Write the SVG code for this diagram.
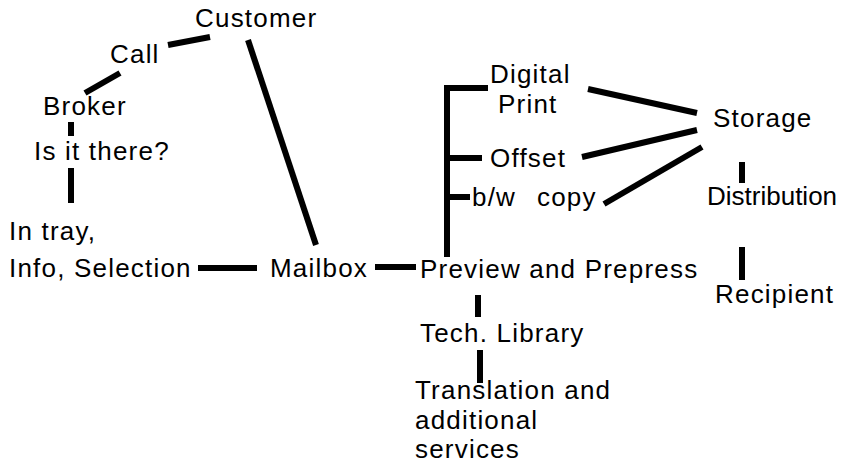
<svg xmlns="http://www.w3.org/2000/svg" width="850" height="465" viewBox="0 0 850 465">
  <style>
    text { font-family: "Liberation Sans", Arial, sans-serif; font-size: 26px; letter-spacing: 1.2px; fill: #000; }
    .tight { letter-spacing: 0; }
    .link { stroke: #000; stroke-width: 6; fill: none; stroke-linecap: butt; }
  </style>
  <rect width="850" height="465" fill="#fff"/>

  <g id="connectors">
    <line class="link" x1="168" y1="45" x2="210" y2="37"/>
    <line class="link" x1="85" y1="93" x2="120" y2="73"/>
    <line class="link" x1="71" y1="122" x2="71" y2="136"/>
    <line class="link" x1="71" y1="168" x2="71" y2="203"/>
    <line class="link" x1="248" y1="40" x2="316" y2="245"/>
    <line class="link" x1="198" y1="268" x2="257" y2="268"/>
    <line class="link" x1="375" y1="267" x2="416" y2="267"/>
    <polyline class="link" points="488,88 447,88 447,257"/>
    <line class="link" x1="447" y1="158" x2="482" y2="158"/>
    <line class="link" x1="447" y1="197" x2="470" y2="197"/>
    <line class="link" x1="588" y1="89" x2="697" y2="113"/>
    <line class="link" x1="582" y1="157" x2="697" y2="130"/>
    <line class="link" x1="604" y1="204" x2="702" y2="147"/>
    <line class="link" x1="742" y1="162" x2="742" y2="183"/>
    <line class="link" x1="742" y1="247" x2="742" y2="280"/>
    <line class="link" x1="478" y1="295" x2="478" y2="317"/>
    <line class="link" x1="480" y1="350" x2="480" y2="383"/>
  </g>

  <g id="customer"><text x="195" y="27">Customer</text></g>
  <g id="call"><text x="110" y="63">Call</text></g>
  <g id="broker"><text x="43" y="115">Broker</text></g>
  <g id="is-it-there"><text x="34" y="160">Is it there?</text></g>
  <g id="in-tray">
    <text x="9" y="240">In tray,</text>
    <text x="9" y="277">Info, Selection</text>
  </g>
  <g id="mailbox"><text x="270" y="277">Mailbox</text></g>
  <g id="preview"><text x="420" y="278">Preview and Prepress</text></g>
  <g id="digital-print">
    <text x="490" y="83">Digital</text>
    <text x="498" y="113">Print</text>
  </g>
  <g id="offset"><text x="490" y="167">Offset</text></g>
  <g id="bw-copy"><text x="472" y="206">b/w <tspan x="537">copy</tspan></text></g>
  <g id="storage"><text x="713" y="127">Storage</text></g>
  <g id="distribution"><text class="tight" x="707" y="205">Distribution</text></g>
  <g id="recipient"><text x="715" y="303">Recipient</text></g>
  <g id="tech-library"><text x="420" y="342">Tech. Library</text></g>
  <g id="translation">
    <text x="415" y="399">Translation and</text>
    <text x="415" y="428.5">additional</text>
    <text x="415" y="458">services</text>
  </g>
</svg>
